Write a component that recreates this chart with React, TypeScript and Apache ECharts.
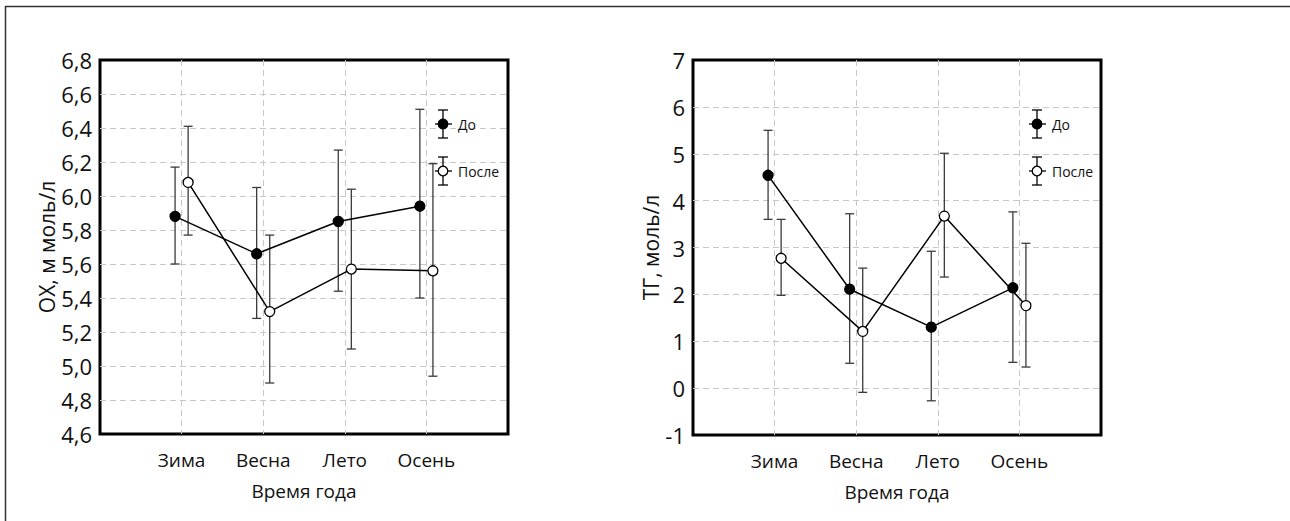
import React, { useEffect, useRef } from "react";
import * as echarts from "echarts";

const seasons = ["Зима", "Весна", "Лето", "Осень"];

const oxBeforeMean = [5.88, 5.66, 5.85, 5.94];
const oxBeforeLow = [5.6, 5.28, 5.44, 5.4];
const oxBeforeHigh = [6.17, 6.05, 6.27, 6.51];
const oxAfterMean = [6.08, 5.32, 5.57, 5.56];
const oxAfterLow = [5.77, 4.9, 5.1, 4.94];
const oxAfterHigh = [6.41, 5.77, 6.04, 6.19];

const tgBeforeMean = [4.54, 2.11, 1.3, 2.14];
const tgBeforeLow = [3.6, 0.53, -0.27, 0.55];
const tgBeforeHigh = [5.5, 3.72, 2.92, 3.76];
const tgAfterMean = [2.77, 1.21, 3.67, 1.76];
const tgAfterLow = [1.98, -0.09, 2.37, 0.45];
const tgAfterHigh = [3.6, 2.56, 5.01, 3.09];

const legendLabels = ["До", "После"];
const FONT = "'Open Sans', sans-serif";
const OFFSET = 0.08;

function pts(mean: number[], shift: number) {
  return mean.map((v, i) => [i + 1 + shift, v]);
}
function bars(low: number[], high: number[], shift: number) {
  return low.map((l, i) => [i + 1 + shift, l, high[i]]);
}

const errColor = "#3a3a3a";

function errorSeries(gridIndex: number, data: number[][]) {
  return {
    type: "custom",
    xAxisIndex: gridIndex,
    yAxisIndex: gridIndex,
    z: 3,
    data,
    encode: { x: 0, y: [1, 2] },
    renderItem: (params: any, api: any) => {
      const x = api.value(0);
      const lo = api.coord([x, api.value(1)]);
      const hi = api.coord([x, api.value(2)]);
      const cw = 4.5;
      const style = { stroke: errColor, lineWidth: 1.3 };
      return {
        type: "group",
        children: [
          { type: "line", shape: { x1: lo[0], y1: lo[1], x2: hi[0], y2: hi[1] }, style },
          { type: "line", shape: { x1: lo[0] - cw, y1: lo[1], x2: lo[0] + cw, y2: lo[1] }, style },
          { type: "line", shape: { x1: hi[0] - cw, y1: hi[1], x2: hi[0] + cw, y2: hi[1] }, style },
        ],
      };
    },
  };
}

function lineSeries(gridIndex: number, data: number[][], filled: boolean) {
  return {
    type: "line",
    xAxisIndex: gridIndex,
    yAxisIndex: gridIndex,
    z: 5,
    data,
    symbol: "circle",
    symbolSize: 10,
    lineStyle: { color: "#000", width: 1.5 },
    itemStyle: {
      color: filled ? "#000" : "#fff",
      borderColor: "#000",
      borderWidth: 1.3,
    },
  };
}

function legendGraphic(x: number, y: number, filled: boolean, label: string) {
  const s = { stroke: "#000", lineWidth: 1.3 };
  return [
    { type: "line", shape: { x1: x, y1: y - 14, x2: x, y2: y + 14 }, style: s, z: 10 },
    { type: "line", shape: { x1: x - 5, y1: y - 14, x2: x + 5, y2: y - 14 }, style: s, z: 10 },
    { type: "line", shape: { x1: x - 5, y1: y + 14, x2: x + 5, y2: y + 14 }, style: s, z: 10 },
    { type: "line", shape: { x1: x - 8, y1: y, x2: x + 9, y2: y }, style: s, z: 10 },
    {
      type: "circle",
      shape: { cx: x, cy: y, r: 4.8 },
      style: { fill: filled ? "#000" : "#fff", stroke: "#000", lineWidth: 1.3 },
      z: 11,
    },
    {
      type: "text",
      x: x + 15,
      y: y,
      style: { text: label, fill: "#111", font: `14px ${FONT}`, verticalAlign: "middle" },
      z: 11,
    },
  ];
}

export default function App() {
  const ref = useRef<HTMLDivElement>(null);
  useEffect(() => {
    document.body.style.margin = "0";
    const chart = echarts.init(ref.current!, null, { renderer: "svg" });
    const splitLine = {
      show: true,
      showMinLine: false,
      showMaxLine: false,
      lineStyle: { color: "#c8c8c8", type: [6, 4], width: 1 },
    };
    const xAxisBase = (gridIndex: number) => ({
      type: "value",
      gridIndex,
      min: 0,
      max: 5,
      interval: 1,
      axisLine: { show: false },
      axisTick: { show: false },
      splitLine,
      axisLabel: {
        fontSize: 19,
        fontFamily: FONT,
        color: "#111",
        margin: 16,
        formatter: (v: number) => seasons[v - 1] ?? "",
      },
      name: "Время года",
      nameLocation: "middle",
      nameGap: 47,
      nameTextStyle: { fontSize: 19, fontFamily: FONT, color: "#111" },
    });
    chart.setOption({
      animation: false,
      backgroundColor: "#fff",
      grid: [
        { left: 100, top: 60, width: 408, height: 374, show: true, borderColor: "#000", borderWidth: 3, backgroundColor: "transparent" },
        { left: 693, top: 60, width: 408, height: 375, show: true, borderColor: "#000", borderWidth: 3, backgroundColor: "transparent" },
      ],
      xAxis: [xAxisBase(0), xAxisBase(1)],
      yAxis: [
        {
          type: "value",
          gridIndex: 0,
          min: 4.6,
          max: 6.8,
          interval: 0.2,
          axisLine: { show: false },
          axisTick: { show: false },
          splitLine,
          axisLabel: {
            fontSize: 22,
            fontFamily: FONT,
            color: "#111",
            margin: 8,
            formatter: (v: number) => v.toFixed(1).replace(".", ","),
          },
          name: "ОХ, м моль/л",
          nameLocation: "middle",
          nameGap: 43,
          nameTextStyle: { fontSize: 21, fontFamily: FONT, color: "#111" },
        },
        {
          type: "value",
          gridIndex: 1,
          min: -1,
          max: 7,
          interval: 1,
          axisLine: { show: false },
          axisTick: { show: false },
          splitLine,
          axisLabel: { fontSize: 22, fontFamily: FONT, color: "#111", margin: 8 },
          name: "ТГ, моль/л",
          nameLocation: "middle",
          nameGap: 22,
          nameTextStyle: { fontSize: 21, fontFamily: FONT, color: "#111" },
        },
      ],
      series: [
        errorSeries(0, bars(oxBeforeLow, oxBeforeHigh, -OFFSET)),
        errorSeries(0, bars(oxAfterLow, oxAfterHigh, OFFSET)),
        lineSeries(0, pts(oxBeforeMean, -OFFSET), true),
        lineSeries(0, pts(oxAfterMean, OFFSET), false),
        errorSeries(1, bars(tgBeforeLow, tgBeforeHigh, -OFFSET)),
        errorSeries(1, bars(tgAfterLow, tgAfterHigh, OFFSET)),
        lineSeries(1, pts(tgBeforeMean, -OFFSET), true),
        lineSeries(1, pts(tgAfterMean, OFFSET), false),
      ],
      graphic: [
        {
          type: "rect",
          shape: { x: 5.5, y: 6.5, width: 1400, height: 600 },
          style: { fill: "none", stroke: "#333", lineWidth: 1.5 },
          z: 0,
        },
        ...legendGraphic(443, 124, true, legendLabels[0]),
        ...legendGraphic(443, 171, false, legendLabels[1]),
        ...legendGraphic(1037, 124, true, legendLabels[0]),
        ...legendGraphic(1037, 171, false, legendLabels[1]),
      ],
    });
    return () => chart.dispose();
  }, []);
  return <div ref={ref} style={{ width: 1290, height: 521 }} />;
}
